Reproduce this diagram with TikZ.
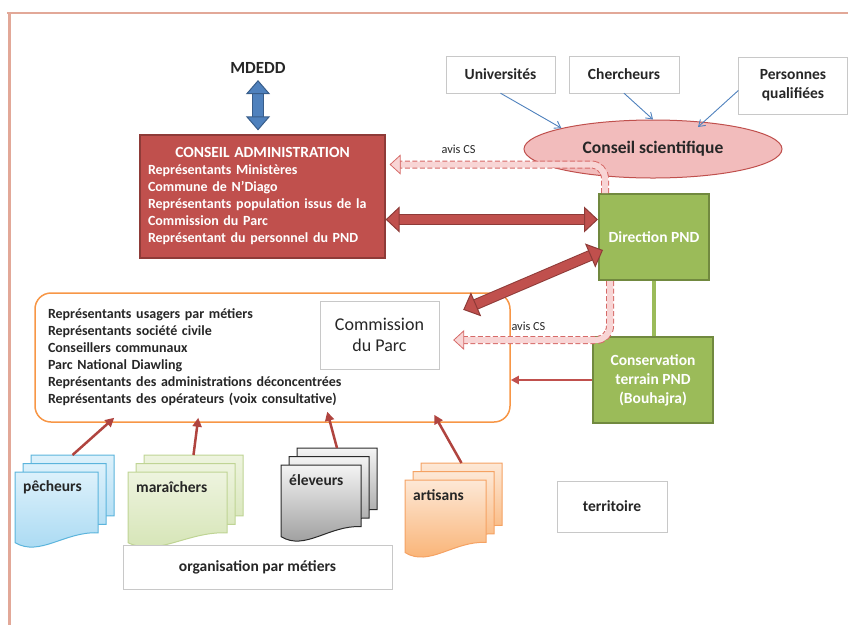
\documentclass[tikz,border=0pt]{standalone}
\usepackage{fontspec}
\setmainfont{Carlito}
\usetikzlibrary{arrows.meta,shapes.geometric,calc}

\definecolor{caRed}{HTML}{C0504D}
\definecolor{caDark}{HTML}{8E3B38}
\definecolor{pndGreen}{HTML}{9BBB59}
\definecolor{pndDark}{HTML}{71893F}
\definecolor{csPink}{HTML}{F2BCBC}
\definecolor{avisPink}{HTML}{F8D5D5}
\definecolor{avisRed}{HTML}{D66A68}
\definecolor{parcOrange}{HTML}{F79646}
\definecolor{boxGray}{HTML}{C8C8C8}
\definecolor{arrBlue}{HTML}{4F81BD}
\definecolor{arrBlueDark}{HTML}{385D8A}
\definecolor{arrRed}{HTML}{B0443F}
\definecolor{frameCol}{HTML}{E2A898}
\definecolor{txtCol}{HTML}{262626}
\definecolor{docBlueTop}{HTML}{DDF1FB}
\definecolor{docBlueBot}{HTML}{A5D8F2}
\definecolor{docBlueLine}{HTML}{5BB4DC}
\definecolor{docGreenTop}{HTML}{EEF4DF}
\definecolor{docGreenBot}{HTML}{D3E3B2}
\definecolor{docGreenLine}{HTML}{BFD494}
\definecolor{docGrayTop}{HTML}{F4F4F4}
\definecolor{docGrayBot}{HTML}{959595}
\definecolor{docGrayLine}{HTML}{2A2A2A}
\definecolor{docOrangeTop}{HTML}{FDE8D6}
\definecolor{docOrangeBot}{HTML}{F9AE6C}
\definecolor{docOrangeLine}{HTML}{F5A263}

\newcommand{\setfs}[2]{\fontsize{#1}{#2}\selectfont}

% one stack of three pages: name, x, y, width, height, style, label
\newcommand{\docstack}[7]{%
  \foreach \k in {2,1,0}{
    \path[#6] ({#2+8*\k},{#3-8.5*\k}) -- ++(#4,0) -- ++(0,{0.8*#5})
      .. controls ({#2+8*\k+0.6*#4},{#3-8.5*\k+0.78*#5}) and ({#2+8*\k+0.3*#4},{#3-8.5*\k+1.12*#5}) .. ({#2+8*\k},{#3-8.5*\k+0.93*#5}) -- cycle;
  }
  \node[doctext] (#1) at ({#2+8},{#3+15}) {#7};
  \coordinate (#1top) at ({#2+16+#4/2},{#3-17});
}

\begin{document}
\begin{tikzpicture}[x=1pt, y=-1pt,
    graybox/.style={rectangle, draw=boxGray, fill=white, font=\bfseries\setfs{15.5}{19}, text=txtCol, align=center},
    cabox/.style={rectangle, draw=caDark, line width=1.2pt, fill=caRed, text=white, font=\bfseries\setfs{14}{17}, align=left, text width=229pt, inner sep=8pt, minimum height=123pt},
    pndbox/.style={rectangle, draw=pndDark, line width=2pt, fill=pndGreen, text=white, font=\bfseries\setfs{15.5}{19}, align=center},
    parcbox/.style={rectangle, rounded corners=16pt, draw=parcOrange, line width=1.5pt, align=left, text width=449pt, inner sep=13pt, minimum height=129pt, font=\bfseries\setfs{14}{17}, text=txtCol},
    csell/.style={ellipse, draw=caRed, line width=1pt, fill=csPink, minimum width=258pt, minimum height=58pt, inner sep=0pt, font=\bfseries\setfs{17.5}{20}, text=txtCol},
    doctext/.style={anchor=west, inner sep=0pt, font=\bfseries\setfs{15.5}{19}, text=txtCol},
    avislabel/.style={font=\setfs{12.3}{14}, text=txtCol, inner sep=1pt},
    docblue/.style={draw=docBlueLine, line width=1pt, top color=docBlueTop, bottom color=docBlueBot},
    docgreen/.style={draw=docGreenLine, line width=1pt, top color=docGreenTop, bottom color=docGreenBot},
    docgray/.style={draw=docGrayLine, line width=1pt, top color=docGrayTop, bottom color=docGrayBot},
    docorange/.style={draw=docOrangeLine, line width=1pt, top color=docOrangeTop, bottom color=docOrangeBot},
    fatarrow/.style={line width=9pt, draw=caRed,
      {Triangle[length=14pt, width=26pt, color=caDark, fill=caRed, line width=1pt]}-{Triangle[length=14pt, width=26pt, color=caDark, fill=caRed, line width=1pt]},
      preaction={draw=caDark, line width=11pt, -, shorten <=12pt, shorten >=12pt}},
    bluefat/.style={line width=10pt, draw=arrBlue,
      {Triangle[length=14pt, width=24pt, color=arrBlueDark, fill=arrBlue, line width=1pt]}-{Triangle[length=14pt, width=24pt, color=arrBlueDark, fill=arrBlue, line width=1pt]},
      preaction={draw=arrBlueDark, line width=12pt, -, shorten <=12pt, shorten >=12pt}},
    avis/.style={line width=6pt, draw=avisPink, rounded corners=14pt,
      -{Triangle[length=11pt, width=20pt, color=avisRed, fill=avisPink, line width=0.8pt]},
      preaction={draw=avisRed, line width=8pt, dash pattern=on 5pt off 2.5pt, -, shorten >=9pt}},
    bluearr/.style={draw=arrBlue, line width=0.9pt, -{Straight Barb[length=6pt, width=8pt]}},
    redarr/.style={draw=arrRed, line width=2.5pt, -{Triangle[length=9pt, width=9pt]}},
    thinred/.style={draw=caRed, line width=2.2pt, -{Triangle[length=8pt, width=8pt]}}
  ]
  \useasboundingbox (0,0) rectangle (848,625);

  % page frame
  \draw[frameCol, line width=1.5pt] (7,13) -- (848,13);
  \draw[frameCol, line width=3pt] (9.5,13) -- (9.5,625);

  % top
  \node[font=\bfseries\setfs{17}{20}, text=txtCol] (mdedd) at (258,68) {MDEDD};
  \node[cabox] (ca) at (262.5,196.5) {\makebox[229pt]{\setfs{15.5}{18}CONSEIL ADMINISTRATION}\\
    Représentants Ministères\\
    Commune de N'Diago\\
    Représentants population issus de la\\
    Commission du Parc\\
    Représentant du personnel du PND};
  \node[graybox, minimum width=109pt, minimum height=37pt] (univ) at (500.5,74.5) {Universités};
  \node[graybox, minimum width=110pt, minimum height=37pt] (cher) at (624,74.5) {Chercheurs};
  \node[graybox, minimum width=109pt, minimum height=57pt] (pq) at (793,85.5) {Personnes\\qualifiées};
  \node[csell] (cs) at (653,149) {Conseil scientifique};

  % PND
  \node[pndbox, minimum width=110pt, minimum height=86pt] (dir) at (654,237) {Direction PND};
  \node[pndbox, minimum width=120pt, minimum height=86pt] (cons) at (653,380) {Conservation\\terrain PND\\(Bouhajra)};

  % commission du parc
  \node[parcbox] (parc) at (272.5,357.5) {Représentants usagers par métiers\\
    Représentants société civile\\
    Conseillers communaux\\
    Parc National Diawling\\
    Représentants des administrations déconcentrées\\
    Représentants des opérateurs (voix consultative)};
  \node[graybox, font=\setfs{18}{21}, minimum width=119pt, minimum height=68pt] (com) at (379.5,335) {Commission\\du Parc};

  % metiers
  \docstack{pecheurs}{15}{472}{83}{76}{docblue}{pêcheurs}
  \docstack{maraichers}{128}{472}{99}{76}{docgreen}{maraîchers}
  \docstack{eleveurs}{281}{465}{80}{77}{docgray}{éleveurs}
  \docstack{artisans}{405}{480}{81}{78}{docorange}{artisans}
  \node[graybox, minimum width=269pt, minimum height=44pt] (orga) at (257.5,567) {organisation par métiers};
  \node[graybox, minimum width=110pt, minimum height=51pt] (terr) at (612,506.5) {territoire};

  % arrows
  \draw[bluefat, shorten <=3pt, shorten >=4pt] (mdedd.south) -- (mdedd.south |- ca.north);
  \draw[bluearr] (univ.south) -- (cs.north west);
  \draw[bluearr] (cher.south) -- (cs.north);
  \draw[bluearr] ([yshift=-5pt]pq.west) -- ([xshift=45pt,yshift=22pt]cs.center);

  \coordinate (caarr) at ([yshift=-23pt]ca.east);
  \draw[fatarrow] (caarr) -- (caarr -| dir.west);
  \draw[fatarrow] ([shift={(24,9)}]com.north east) -- ([shift={(5,13)}]dir.west);

  \draw[avis] ([xshift=7pt]dir.north west) |- ([xshift=4pt,yshift=32pt]ca.east)
    node[avislabel, pos=0.84, above=7pt] (avis1) {avis CS};
  \draw[avis] ([xshift=12pt]dir.south west) |- ([xshift=14pt,yshift=-5pt]com.east)
    node[avislabel, pos=0.76, above=5pt] (avis2) {avis CS};

  \draw[pndGreen, line width=3.5pt] (dir.south) -- (dir.south |- cons.north);
  \draw[thinred] (cons.west) -- (cons.west -| parc.east);

  \draw[redarr] (pecheurstop) -- ([shift={(80,-5)}]parc.south west);
  \draw[redarr] (maraicherstop) -- ([shift={(164,-5)}]parc.south west);
  \draw[redarr] (eleveurstop) -- ([shift={(293,-11)}]parc.south west);
  \draw[redarr] (artisanstop) -- ([shift={(400,-8)}]parc.south west);

\end{tikzpicture}
\end{document}
